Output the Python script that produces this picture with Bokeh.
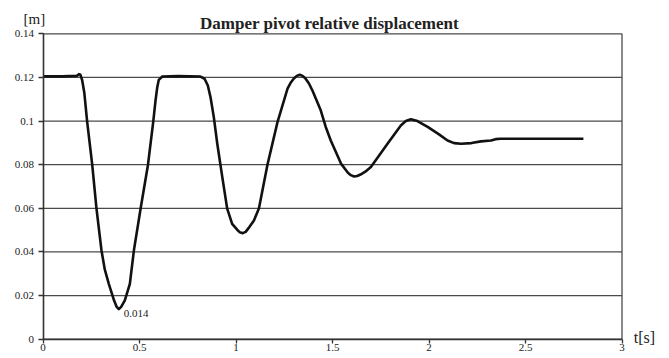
from bokeh.plotting import figure
from bokeh.models import Range1d, FixedTicker, LinearAxis
from bokeh.core.properties import value
from bokeh.embed import file_html
from bokeh.resources import INLINE

# Damper pivot relative displacement over time
t_s = [0.000, 0.100, 0.170, 0.178, 0.186, 0.194, 0.203, 0.214, 0.229, 0.255,
       0.277, 0.303, 0.320, 0.341, 0.368, 0.382, 0.393, 0.405, 0.424, 0.450,
       0.471, 0.506, 0.544, 0.571, 0.583, 0.592, 0.600, 0.618, 0.700, 0.816,
       0.837, 0.854, 0.868, 0.885, 0.903, 0.929, 0.954, 0.980, 1.006, 1.020,
       1.035, 1.050, 1.070, 1.093, 1.119, 1.163, 1.215, 1.267, 1.285, 1.300,
       1.315, 1.330, 1.345, 1.360, 1.378, 1.396, 1.439, 1.465, 1.491, 1.544,
       1.580, 1.595, 1.612, 1.628, 1.645, 1.670, 1.699, 1.785, 1.854, 1.880,
       1.906, 1.940, 1.993, 2.050, 2.096, 2.130, 2.166, 2.220, 2.269, 2.321,
       2.345, 2.370, 2.800]
disp_m = [0.1205, 0.1205, 0.1207, 0.1208, 0.1215, 0.1212, 0.1187, 0.1130, 0.0995, 0.0800,
          0.0600, 0.0407, 0.0320, 0.0254, 0.0178, 0.0148, 0.0138, 0.0148, 0.0178, 0.0254,
          0.0407, 0.0600, 0.0800, 0.0995, 0.1094, 0.1155, 0.1189, 0.1204, 0.1206, 0.1204,
          0.1194, 0.1163, 0.1109, 0.1018, 0.0896, 0.0743, 0.0600, 0.0529, 0.0502, 0.0490,
          0.0486, 0.0492, 0.0515, 0.0544, 0.0600, 0.0800, 0.0995, 0.1149, 0.1178, 0.1195,
          0.1207, 0.1212, 0.1207, 0.1195, 0.1172, 0.1140, 0.1049, 0.0973, 0.0911, 0.0805,
          0.0763, 0.0752, 0.0746, 0.0748, 0.0755, 0.0768, 0.0789, 0.0896, 0.0980, 0.1000,
          0.1008, 0.1000, 0.0973, 0.0940, 0.0911, 0.0899, 0.0896, 0.0899, 0.0907, 0.0911,
          0.0917, 0.0919, 0.0919]

min_t = 0.393
min_value = 0.014

x_ticks = [0, 0.5, 1, 1.5, 2, 2.5, 3]
x_tick_labels = ["0", "0.5", "1", "1.5", "2", "2.5", "3"]
y_ticks = [0, 0.02, 0.04, 0.06, 0.08, 0.10, 0.12, 0.14]
y_tick_labels = ["0", "0.02", "0.04", "0.06", "0.08", "0.1", "0.12", "0.14"]

title_text = "Damper pivot relative displacement"
y_unit = "[m]"
x_unit = "t[s]"

SERIF = "Times New Roman"
GRID = "#4a4a4a"
INK = "#222222"

W, H = 669, 358
# pixel scale of the plotting area: 193 px per second, 2181 px per metre
PX_X, PX_Y = 193.0, 2181.4
LEFT_PX, BOTTOM_PX = 42.5, 19.3
x0 = x_ticks[0] - LEFT_PX / PX_X
y0 = y_ticks[0] - BOTTOM_PX / PX_Y

p = figure(width=W, height=H, output_backend="svg", toolbar_location=None,
           x_range=Range1d(x0, x0 + W / PX_X), y_range=Range1d(y0, y0 + H / PX_Y),
           x_axis_location=None, y_axis_location=None,
           min_border=0, min_border_left=0, min_border_right=0,
           min_border_top=0, min_border_bottom=0)
p.background_fill_color = "white"
p.border_fill_color = "white"
p.outline_line_color = None
p.xgrid.visible = False
p.ygrid.visible = False

# horizontal grid lines and right-hand frame line
p.segment(x0=[x_ticks[0]] * len(y_ticks), x1=[x_ticks[-1]] * len(y_ticks),
          y0=y_ticks, y1=y_ticks, line_color=GRID, line_width=1.3)
p.segment(x0=[x_ticks[-1]], x1=[x_ticks[-1]], y0=[y_ticks[0]], y1=[y_ticks[-1]],
          line_color=GRID, line_width=1.3)

# axes pinned at the origin
xaxis = LinearAxis(fixed_location=0, bounds=(x_ticks[0], x_ticks[-1]),
                   ticker=FixedTicker(ticks=x_ticks))
xaxis.major_label_overrides = {t: s for t, s in zip(x_ticks, x_tick_labels)}
xaxis.major_tick_out = 4
xaxis.major_label_standoff = 1

yaxis = LinearAxis(fixed_location=0, bounds=(y_ticks[0], y_ticks[-1]),
                   ticker=FixedTicker(ticks=y_ticks))
yaxis.major_label_overrides = {t: s for t, s in zip(y_ticks, y_tick_labels)}
yaxis.major_tick_out = 5
yaxis.major_label_standoff = 4

for ax in (xaxis, yaxis):
    ax.axis_line_color = "#333333"
    ax.axis_line_width = 1.6
    ax.major_tick_line_color = "#333333"
    ax.major_tick_line_width = 1.3
    ax.minor_tick_line_color = None
    ax.major_tick_in = 0
    ax.major_label_text_font = SERIF
    ax.major_label_text_font_size = "11px"
    ax.major_label_text_color = INK

p.add_layout(xaxis, "below")
p.add_layout(yaxis, "left")

# displacement curve
p.line(t_s, disp_m, line_color="#111111", line_width=2.6, line_join="round")

# texts
p.text(x=[min_t + 0.026], y=[min_value - 0.0021], text=[f"{min_value:.3f}"],
       text_font=value(SERIF), text_font_size="11px", text_color=INK,
       text_align="left", text_baseline="alphabetic")
p.text(x=[1.4845], y=[0.1447], text=[title_text],
       text_font=value(SERIF), text_font_size="17px", text_font_style="bold",
       text_color=INK, text_align="center", text_baseline="alphabetic")
p.text(x=[-0.101], y=[0.1466], text=[y_unit],
       text_font=value(SERIF), text_font_size="15px", text_color=INK,
       text_align="left", text_baseline="alphabetic")
p.text(x=[3.061], y=[0.0008], text=[x_unit],
       text_font=value(SERIF), text_font_size="16px", text_color=INK,
       text_align="left", text_baseline="alphabetic")

open("out.html", "w").write(file_html(p, INLINE))
